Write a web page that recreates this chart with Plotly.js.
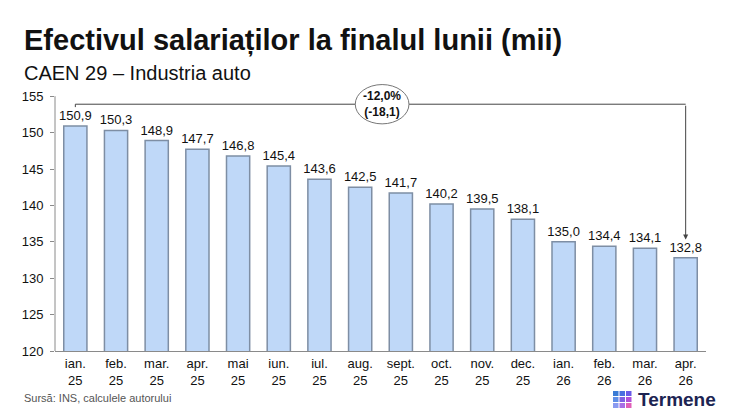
<!DOCTYPE html>
<html><head><meta charset="utf-8">
<script src="https://cdn.plot.ly/plotly-3.0.1.min.js"></script>
<style>body{margin:0;background:#fff}#c{width:750px;height:411px}</style>
</head><body><div id="c"></div>
<script>
const months = ['ian.<br>25','feb.<br>25','mar.<br>25','apr.<br>25','mai<br>25','iun.<br>25','iul.<br>25','aug.<br>25','sept.<br>25','oct.<br>25','nov.<br>25','dec.<br>25','ian.<br>26','feb.<br>26','mar.<br>26','apr.<br>26'];
const values = [150.9,150.3,148.9,147.7,146.8,145.4,143.6,142.5,141.7,140.2,139.5,138.1,135.0,134.4,134.1,132.8];
const yTicks = [120,125,130,135,140,145,150,155];
const changePct = '-12,0%';
const changeAbs = '(-18,1)';

const idx = months.map((m,i)=>i);
const fmt = v => v.toFixed(1).replace('.',',');

const L=55, T=78, W=651, H=273;
const px = x => (x-L)/W;
const py = y => (T+H-y)/H;

const trace = {
  type:'bar', x: idx, y: values,
  text: values.map(fmt), textposition:'outside', cliponaxis:false, constraintext:'none',
  textfont:{family:'Liberation Sans, Arial, sans-serif', size:13, color:'#111'},
  marker:{color:'#BFD8F8', line:{color:'#7E8EA4', width:1.5}},
  width:0.57, hoverinfo:'skip'
};

const shapes = [
  {type:'line', xref:'paper', yref:'y', x0:0, x1:0, y0:120, y1:155, line:{color:'#8a8a8a', width:1}},
  {type:'line', xref:'x', yref:'y', x0:0, x1:0, y0:153.5, y1:153.9, line:{color:'#444', width:1}},
  {type:'line', xref:'x', yref:'y', x0:0, x1:15, y0:153.9, y1:153.9, line:{color:'#444', width:1}},
  {type:'circle', xref:'x', yref:'y', x0:6.88, x1:8.2, y0:151.2, y1:156.6, fillcolor:'#fff', line:{color:'#777', width:1}, layer:'above'}
];
const cubeColors=['#3a7bd5','#4a6ee0','#6a5ae8','#5f8ee6','#7f5fe3','#b04fd8','#8a9af0','#a86ee6','#e05fb8'];
let k=0;
for(let r=0;r<3;r++){for(let c=0;c<3;c++){
  const x0=613+c*6.5, y0=391+r*6;
  shapes.push({type:'rect', xref:'paper', yref:'paper', x0:px(x0), x1:px(x0+5.5), y0:py(y0+5), y1:py(y0), fillcolor:cubeColors[k++], line:{width:0}});
}}

const annotations = [
  {xref:'x', yref:'y', x:15, y:135.3, ax:15, ay:153.9, axref:'x', ayref:'y', text:'', showarrow:true, arrowhead:2, arrowsize:1, arrowwidth:1, arrowcolor:'#444'},
  {xref:'x', yref:'y', x:7.54, y:153.9, text:'<b>'+changePct+'</b><br><b>'+changeAbs+'</b>', showarrow:false, font:{family:'Liberation Sans, Arial, sans-serif', size:12, color:'#111'}},
  {xref:'paper', yref:'paper', x:px(22), y:py(22), xanchor:'left', yanchor:'top', text:'<b>Efectivul salariaților la finalul lunii (mii)</b>', showarrow:false, font:{family:'Liberation Sans Narrow, Arial Narrow, sans-serif', size:29, color:'#111'}},
  {xref:'paper', yref:'paper', x:px(22), y:py(60), xanchor:'left', yanchor:'top', text:'CAEN 29 – Industria auto', showarrow:false, font:{family:'Liberation Sans Narrow, Arial Narrow, sans-serif', size:20, color:'#111'}},
  {xref:'paper', yref:'paper', x:px(22), y:py(398), xanchor:'left', yanchor:'middle', text:'Sursă: INS, calculele autorului', showarrow:false, font:{family:'Liberation Sans, Arial, sans-serif', size:11, color:'#555'}},
  {xref:'paper', yref:'paper', x:px(636), y:py(399), xanchor:'left', yanchor:'middle', text:'<b>Termene</b>', showarrow:false, font:{family:'Liberation Sans, Arial, sans-serif', size:19, color:'#1c2452'}}
];

const layout = {
  width:750, height:411, margin:{l:L, r:750-L-W, t:T, b:411-T-H},
  paper_bgcolor:'#fff', plot_bgcolor:'#fff', showlegend:false, separators:',.',
  bargap:0.43,
  xaxis:{tickvals:idx, ticktext:months, range:[-0.5,15.5], showline:true, linecolor:'#8a8a8a', linewidth:1, ticks:'', showgrid:false, zeroline:false,
         tickfont:{family:'Liberation Sans, Arial, sans-serif', size:13, color:'#111'}, fixedrange:true},
  yaxis:{range:[120,157.5], tickvals:yTicks, ticks:'outside', ticklen:4, tickcolor:'#8a8a8a', showline:false, showgrid:false, zeroline:false,
         tickfont:{family:'Liberation Sans, Arial, sans-serif', size:13, color:'#111'}, ticklabelstandoff:4},
  shapes, annotations
};
Plotly.newPlot('c',[trace],layout,{displayModeBar:false,staticPlot:true});
</script></body></html>
